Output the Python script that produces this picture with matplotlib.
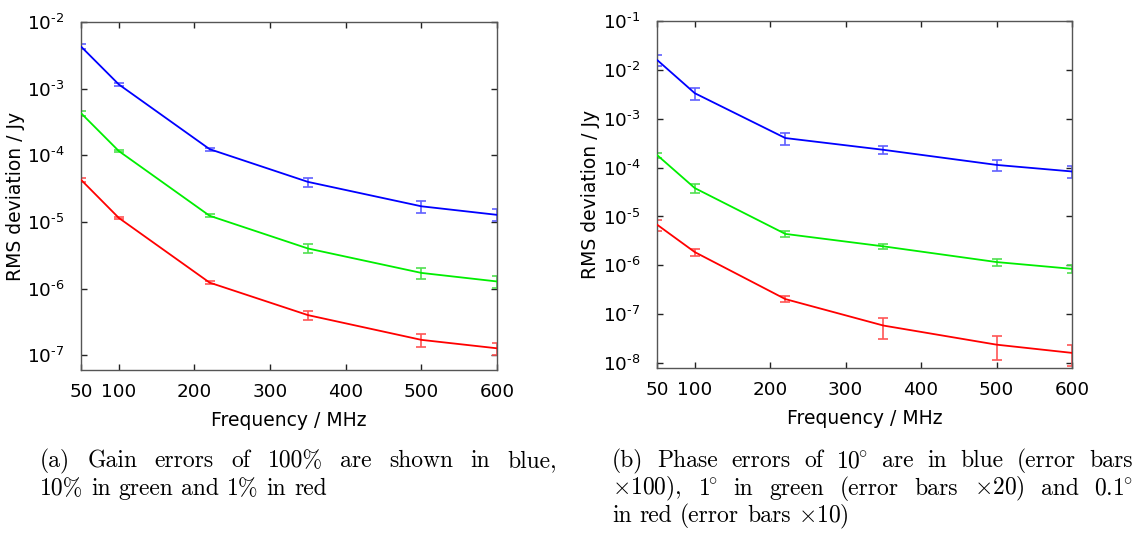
import numpy as np
import matplotlib
matplotlib.use("Agg")
import matplotlib.pyplot as plt
from matplotlib.ticker import LogLocator, NullLocator, FuncFormatter

# Frequencies (MHz)
freqs = [50, 100, 220, 350, 500, 600]

# (a) gain errors: 100% blue, 10% green, 1% red
gain_blue = [4.3e-3, 1.16e-3, 1.24e-4, 4.0e-5, 1.72e-5, 1.28e-5]
gain_green = [4.3e-4, 1.16e-4, 1.24e-5, 4.0e-6, 1.72e-6, 1.28e-6]
gain_red = [4.3e-5, 1.15e-5, 1.23e-6, 4.0e-7, 1.70e-7, 1.27e-7]
gain_blue_err = [3.5e-4, 5e-5, 5.7e-6, 6e-6, 3.5e-6, 2.6e-6]
gain_green_err = [3.5e-5, 5e-6, 6e-7, 6e-7, 3.5e-7, 2.6e-7]
gain_red_err = [3.5e-6, 5e-7, 5.5e-8, 6e-8, 3.5e-8, 2.6e-8]

# (b) phase errors: 10 deg blue, 1 deg green, 0.1 deg red (error bars scaled)
phase_blue = [1.58e-2, 3.3e-3, 4.0e-4, 2.3e-4, 1.13e-4, 8.3e-5]
phase_green = [1.8e-4, 3.8e-5, 4.4e-6, 2.45e-6, 1.17e-6, 8.5e-7]
phase_red = [6.8e-6, 1.87e-6, 2.05e-7, 5.9e-8, 2.4e-8, 1.63e-8]
phase_blue_err = [3.9e-3, 8.5e-4, 1.15e-4, 4.4e-5, 2.8e-5, 2.2e-5]
phase_green_err = [2.2e-5, 8.3e-6, 5.3e-7, 3.3e-7, 2.0e-7, 1.5e-7]
phase_red_err = [1.8e-6, 2.8e-7, 2.8e-8, 2.7e-8, 1.25e-8, 7.4e-9]

x_ticks = [50, 100, 200, 300, 400, 500, 600]

# caption lines, flagged True where LaTeX justified the line
caption_a = [("(a) Gain errors of 100% are shown in blue,", True),
             ("10% in green and 1% in red", False)]
caption_b = [("(b) Phase errors of $10^{\\!\\!\\circ}$ are in blue (error bars", True),
             ("$\\times$100), $1^{\\!\\!\\circ}$ in green (error bars $\\times$20) and $0.1^{\\!\\!\\circ}$", True),
             ("in red (error bars $\\times$10)", False)]

line_colors = ["#0000ff", "#00ee00", "#ff0000"]
err_colors = ["#6060ff", "#50e050", "#ff5555"]

W, H = 1135, 536
plt.rcParams["font.family"] = "DejaVu Sans"

fig = plt.figure(figsize=(W / 100, H / 100), dpi=100)
ax_a = fig.add_axes([0.0714, 0.3097, 0.3665, 0.649])
ax_b = fig.add_axes([0.5789, 0.3129, 0.3656, 0.6485])


def pow10_label(v, pos):
    # gnuplot style 10^-n with a plain hyphen rather than a minus sign
    n = int(round(np.log10(v)))
    sign = "\u2010" if n < 0 else ""
    return "$10^{%s%d}$" % (sign, abs(n))


def draw_panel(ax, series, errs, ylim):
    for vals, err, lc, ec in zip(series, errs, line_colors, err_colors):
        ax.errorbar(freqs, vals, yerr=err, fmt="none", ecolor=ec,
                    elinewidth=1.2, capsize=3.5, capthick=1.2, zorder=2)
        ax.plot(freqs, vals, color=lc, lw=1.3, zorder=3)
    ax.set_yscale("log")
    ax.set_xlim(50, 600)
    ax.set_ylim(*ylim)
    ax.set_xticks(x_ticks)
    ax.yaxis.set_major_locator(LogLocator(base=10, numticks=20))
    ax.yaxis.set_major_formatter(FuncFormatter(pow10_label))
    ax.yaxis.set_minor_locator(NullLocator())
    ax.tick_params(which="both", direction="in", top=True, right=True,
                   length=4, width=1, labelsize=13.2, color="#222222")
    ax.tick_params(axis="y", pad=12)
    ax.tick_params(axis="x", pad=9)
    for sp in ax.spines.values():
        sp.set_color("#555555")
        sp.set_linewidth(1.0)
    ax.set_xlabel("Frequency / MHz", fontsize=13.5)
    ax.set_ylabel("RMS deviation / Jy", fontsize=13.5)


draw_panel(ax_a, [gain_blue, gain_green, gain_red],
           [gain_blue_err, gain_green_err, gain_red_err], (6.0e-8, 1e-2))
draw_panel(ax_b, [phase_blue, phase_green, phase_red],
           [phase_blue_err, phase_green_err, phase_red_err], (7.9e-9, 1e-1))

ax_a.yaxis.set_label_coords(-0.135, 0.5)
ax_b.yaxis.set_label_coords(-0.137, 0.5)
ax_a.xaxis.set_label_coords(0.5, -0.118)
ax_b.xaxis.set_label_coords(0.5, -0.117)


def place_caption(lines, x0, x1, y0, lead, fs=17):
    # word-by-word placement so the justified lines fill the column like LaTeX
    renderer = fig.canvas.get_renderer()
    natural = 0.333 * fs * 100 / 72
    for i, (line, justify) in enumerate(lines):
        words = line.split(" ")
        texts = [fig.text(0, 0, w, family="cmr10", math_fontfamily="cm",
                          fontsize=fs, va="baseline", ha="left") for w in words]
        widths = [t.get_window_extent(renderer).width for t in texts]
        gap = natural
        if justify and len(words) > 1:
            gap = (x1 - x0 - sum(widths)) / (len(words) - 1)
        x = x0
        y = y0 + i * lead
        for t, w in zip(texts, widths):
            t.set_position((x / W, 1 - y / H))
            x += w + gap


place_caption(caption_a, 40, 557, 467, 27.7)
place_caption(caption_b, 612, 1133, 467, 27.7)

fig.savefig("out.png", dpi=100)
